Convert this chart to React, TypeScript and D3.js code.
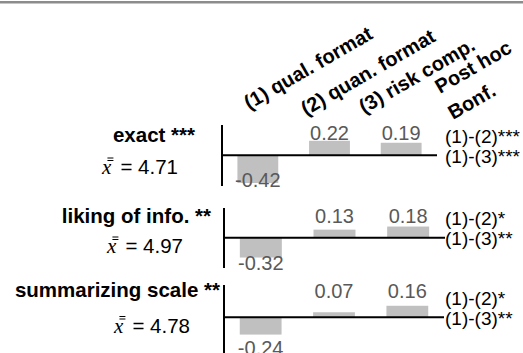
import React, { useEffect, useRef } from "react";
import * as d3 from "d3";

// conditions (bars) and the three outcome measures
const categories = ["(1) qual. format", "(2) quan. format", "(3) risk comp."];
const headerExtra = ["Post hoc", "Bonf."];
const measures = ["exact ***", "liking of info. **", "summarizing scale **"];
const means = ["4.71", "4.97", "4.78"];
const exactValues = [-0.42, 0.22, 0.19];
const likingValues = [-0.32, 0.13, 0.18];
const summaryValues = [-0.24, 0.07, 0.16];
const postHoc12 = ["(1)-(2)***", "(1)-(2)*", "(1)-(2)*"];
const postHoc13 = ["(1)-(3)***", "(1)-(3)**", "(1)-(3)**"];

const panelValues = [exactValues, likingValues, summaryValues];

// panel geometry (pixels)
const layout = [
  { y0: 155.3, x0: 222, x1: 437, titleX: 195, titleY: 142, meanX: 178, meanY: 174, top: 125, bottom: 186, up: 15, down: 32, k: 66 },
  { y0: 237.7, x0: 224, x1: 445, titleX: 211, titleY: 223, meanX: 183, meanY: 253, top: 208, bottom: 268, up: 14.5, down: 32.5, k: 62 },
  { y0: 317.3, x0: 224, x1: 444, titleX: 220, titleY: 297, meanX: 190, meanY: 332.5, top: 285, bottom: 360, up: 19.5, down: 38, k: 72 },
];
const headerPos = [[249, 110], [306, 116], [364, 114], [440, 94], [453, 120]];

const FONT = "'Liberation Sans', Arial, sans-serif";

const Chart = () => {
  const ref = useRef<SVGSVGElement>(null);

  useEffect(() => {
    const svg = d3.select(ref.current);
    svg.selectAll("*").remove();

    // grey rule at the very top
    svg.append("rect").attr("x", 0).attr("y", 1).attr("width", 523).attr("height", 2.5).attr("fill", "#8c8c8c");

    // rotated column headers
    const headers = [...categories, ...headerExtra];
    svg.selectAll(".hdr")
      .data(headers)
      .enter()
      .append("text")
      .attr("class", "hdr")
      .attr("transform", (d, i) => `translate(${headerPos[i][0]},${headerPos[i][1]}) rotate(-30)`)
      .style("font-family", FONT)
      .style("font-size", "20px")
      .style("font-weight", "bold")
      .text(d => d);

    panelValues.forEach((values, pi) => {
      const p = layout[pi];
      const g = svg.append("g");

      const x = d3.scaleBand()
        .domain(categories)
        .range([p.x0, p.x1])
        .paddingInner(0.43)
        .paddingOuter(0.215);
      const y = d3.scaleLinear().domain([0, 1]).range([p.y0, p.y0 - p.k]);

      g.selectAll("rect")
        .data(values)
        .enter()
        .append("rect")
        .attr("x", (d, i) => x(categories[i]))
        .attr("width", x.bandwidth())
        .attr("y", d => Math.min(y(d), y(0)))
        .attr("height", d => Math.abs(y(d) - y(0)))
        .attr("fill", "#c0c0c0");

      // value labels
      g.selectAll(".val")
        .data(values)
        .enter()
        .append("text")
        .attr("class", "val")
        .attr("x", (d, i) => x(categories[i]) + x.bandwidth() / 2)
        .attr("y", d => (d < 0 ? p.y0 + p.down : p.y0 - p.up))
        .attr("text-anchor", "middle")
        .style("font-family", FONT)
        .style("font-size", "20px")
        .attr("fill", "#595959")
        .text(d => d.toFixed(2));

      // axis + zero line
      g.append("line")
        .attr("x1", p.x0).attr("x2", p.x0)
        .attr("y1", p.top).attr("y2", p.bottom)
        .attr("stroke", "#000").attr("stroke-width", 2);
      g.append("line")
        .attr("x1", p.x0).attr("x2", p.x1)
        .attr("y1", y(0)).attr("y2", y(0))
        .attr("stroke", "#000").attr("stroke-width", 2);

      // measure name
      g.append("text")
        .attr("x", p.titleX)
        .attr("y", p.titleY)
        .attr("text-anchor", "end")
        .style("font-family", FONT)
        .style("font-size", "20.5px")
        .style("font-weight", "bold")
        .text(measures[pi]);

      // grand mean: italic x with a double bar, then "= value"
      const rest = g.append("text")
        .attr("x", p.meanX)
        .attr("y", p.meanY)
        .attr("text-anchor", "end")
        .style("font-family", FONT)
        .style("font-size", "20.5px")
        .text(`= ${means[pi]}`);
      const restW = (rest.node() as SVGTextElement).getComputedTextLength();
      const xEnd = p.meanX - restW - 9;
      g.append("text")
        .attr("x", xEnd)
        .attr("y", p.meanY)
        .attr("text-anchor", "end")
        .style("font-family", "'Liberation Serif', 'Times New Roman', serif")
        .style("font-style", "italic")
        .style("font-size", "21px")
        .text("x");
      [0, 2.5].forEach(off => {
        g.append("line")
          .attr("x1", xEnd - 4).attr("x2", xEnd + 2)
          .attr("y1", p.meanY - 16 + off).attr("y2", p.meanY - 16 + off)
          .attr("stroke", "#000").attr("stroke-width", 1);
      });

      // post hoc comparisons
      g.append("text")
        .attr("x", 445)
        .attr("y", p.y0 - 12.5)
        .style("font-family", FONT)
        .style("font-size", "19px")
        .text(postHoc12[pi]);
      g.append("text")
        .attr("x", 445)
        .attr("y", p.y0 + 7.5)
        .style("font-family", FONT)
        .style("font-size", "19px")
        .text(postHoc13[pi]);
    });
  }, []);

  return (
    <svg
      ref={ref}
      width={523}
      height={353}
      style={{ position: "absolute", left: 0, top: 0, background: "#fff" }}
    />
  );
};

export default function App() {
  return <Chart />;
}
